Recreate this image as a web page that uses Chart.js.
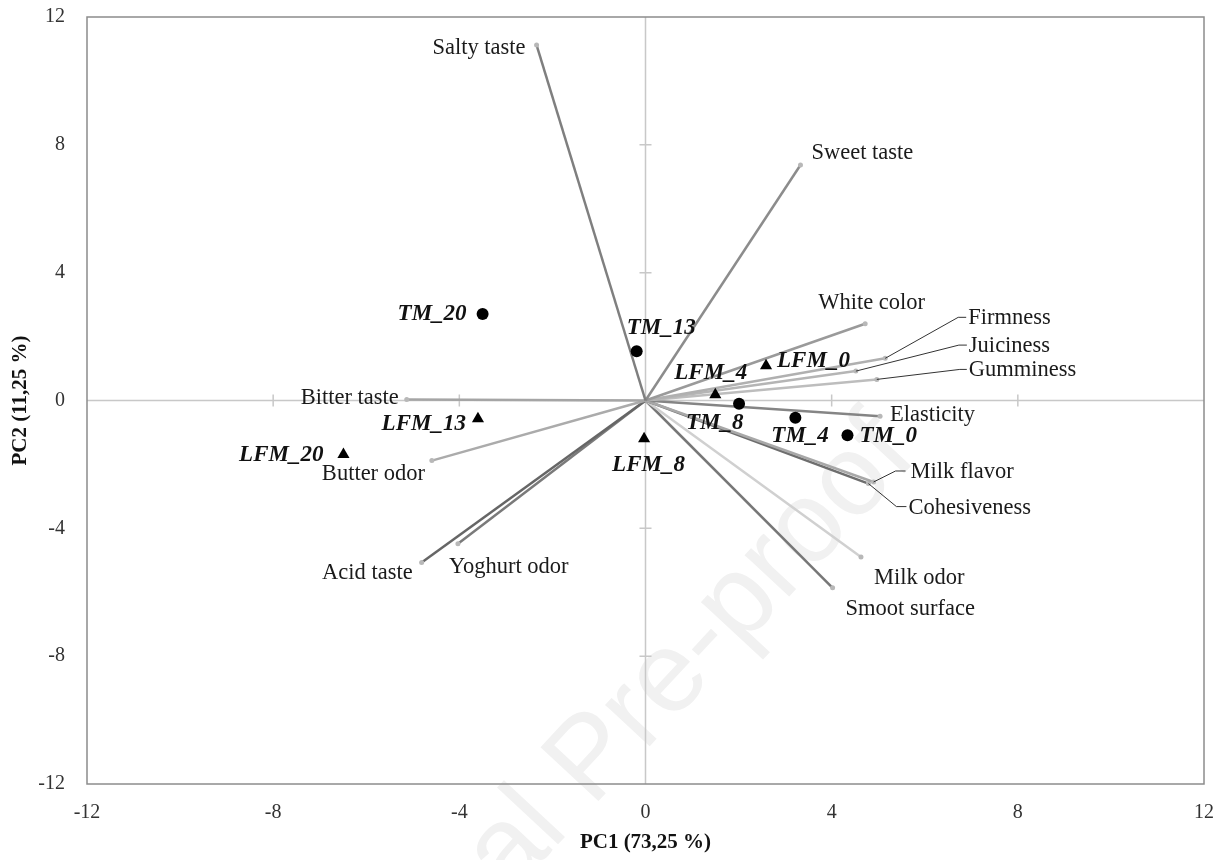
<!DOCTYPE html>
<html>
<head>
<meta charset="utf-8">
<script src="https://cdn.jsdelivr.net/npm/chart.js@4.4.0/dist/chart.umd.min.js"></script>
<style>
  html, body { margin: 0; padding: 0; background: #fff; }
  #wrap { width: 1230px; height: 860px; position: relative; }
</style>
</head>
<body>
<div id="wrap"><canvas id="grafico"></canvas></div>
<script>
// loadings (attributes)
var attributes = ['Salty taste', 'Sweet taste', 'White color', 'Firmness', 'Juiciness', 'Gumminess',
  'Elasticity', 'Milk flavor', 'Cohesiveness', 'Milk odor', 'Smoot surface',
  'Bitter taste', 'Butter odor', 'Acid taste', 'Yoghurt odor'];
var attrPC1 = [-2.34, 3.33, 4.72, 5.15, 4.52, 4.97, 5.04, 4.90, 4.79, 4.63, 4.02, -5.13, -4.59, -4.81, -4.03];
var attrPC2 = [11.12, 7.37, 2.40, 1.32, 0.92, 0.66, -0.49, -2.55, -2.60, -4.90, -5.86, 0.03, -1.88, -5.07, -4.48];

// samples
var tmNames = ['TM_0', 'TM_4', 'TM_8', 'TM_13', 'TM_20'];
var tmPC1 = [4.34, 3.22, 2.01, -0.19, -3.50];
var tmPC2 = [-1.09, -0.54, -0.10, 1.54, 2.71];

var lfmNames = ['LFM_0', 'LFM_4', 'LFM_8', 'LFM_13', 'LFM_20'];
var lfmPC1 = [2.59, 1.50, -0.03, -3.60, -6.49];
var lfmPC2 = [1.09, 0.18, -1.20, -0.57, -1.69];

var axisTicks = [-12, -8, -4, 0, 4, 8, 12];

// styles
var lineColors = ['#7f7f7f', '#8c8c8c', '#9a9a9a', '#b0b0b0', '#b5b5b5', '#bdbdbd', '#858585',
  '#a8a8a8', '#6e6e6e', '#d0d0d0', '#777777', '#a5a5a5', '#ababab', '#666666', '#7a7a7a'];

// label placement in pixels from the point: [dx, dy, align]
var attrLabelPos = {
  'Salty taste': [-11, 3, 'right'],
  'Sweet taste': [11, -12, 'left'],
  'White color': [-47, -21, 'left'],
  'Firmness': [83, -40, 'left'],
  'Juiciness': [113, -25, 'left'],
  'Gumminess': [92, -9, 'left'],
  'Elasticity': [10, -1, 'left'],
  'Milk flavor': [37, -10, 'left'],
  'Cohesiveness': [40, 25, 'left'],
  'Milk odor': [13, 21, 'left'],
  'Smoot surface': [13, 21, 'left'],
  'Bitter taste': [-8, -1, 'right'],
  'Butter odor': [-110, 14, 'left'],
  'Acid taste': [-9, 11, 'right'],
  'Yoghurt odor': [-9, 23, 'left']
};
// leader lines (polyline from the end point)
var leaders = {
  'Firmness': [[73, -41], [81, -41]],
  'Juiciness': [[103, -26], [111, -26]],
  'Gumminess': [[83, -10], [90, -10]],
  'Milk flavor': [[22, -11], [32, -11]],
  'Cohesiveness': [[28, 23], [38, 23]]
};
var sampleLabelPos = {
  'TM_20': [-16, 0, 'right'],
  'TM_13': [-10, -23, 'left'],
  'LFM_13': [-12, 5, 'right'],
  'LFM_20': [-20, 1, 'right'],
  'LFM_8': [-32, 26, 'left'],
  'LFM_4': [-41, -22, 'left'],
  'LFM_0': [11, -5, 'left'],
  'TM_8': [-53, 19, 'left'],
  'TM_4': [-24, 18, 'left'],
  'TM_0': [12, 1, 'left']
};

var serif = '"Liberation Serif", "Times New Roman", serif';

function buildDatasets() {
  var ds = [];
  ds.push({
    label: 'TM', data: tmNames.map(function(n, i) { return { x: tmPC1[i], y: tmPC2[i], name: n }; }),
    pointStyle: 'circle', pointRadius: 6, backgroundColor: '#000', borderColor: '#000', borderWidth: 0, order: 0
  });
  ds.push({
    label: 'LFM', data: lfmNames.map(function(n, i) { return { x: lfmPC1[i], y: lfmPC2[i], name: n }; }),
    pointStyle: 'triangle', pointRadius: 7, backgroundColor: '#000', borderColor: '#000', borderWidth: 0, order: 0
  });
  for (var i = 0; i < attributes.length; i++) {
    ds.push({
      label: attributes[i],
      data: [{ x: 0, y: 0 }, { x: attrPC1[i], y: attrPC2[i], name: attributes[i] }],
      showLine: true,
      borderColor: lineColors[i],
      borderWidth: 2.5,
      pointRadius: [0, 2.5],
      pointBackgroundColor: '#b8b8b8',
      pointBorderWidth: 0,
      order: 1
    });
  }
  return ds;
}

var biplotPlugin = {
  id: 'biplot',
  beforeDraw: function(chart) {
    // watermark, under everything
    var ctx = chart.ctx;
    ctx.save();
    ctx.translate(592, 808);
    ctx.rotate(-47 * Math.PI / 180);
    ctx.font = '115px "Liberation Sans", sans-serif';
    ctx.textBaseline = 'alphabetic';
    ctx.fillStyle = '#f1f1f1';
    ctx.textAlign = 'right';
    ctx.fillText('Journal ', 0, 0);
    ctx.textAlign = 'left';
    ctx.fillText('Pre-proof', 0, 0);
    ctx.restore();
  },
  beforeDatasetsDraw: function(chart) {
    var ctx = chart.ctx, a = chart.chartArea, sx = chart.scales.x, sy = chart.scales.y;
    var x0 = sx.getPixelForValue(0), y0 = sy.getPixelForValue(0);
    ctx.save();
    // zero axes
    ctx.strokeStyle = '#c8c8c8';
    ctx.lineWidth = 1.5;
    ctx.beginPath();
    ctx.moveTo(a.left, y0); ctx.lineTo(a.right, y0);
    ctx.moveTo(x0, a.top); ctx.lineTo(x0, a.bottom);
    axisTicks.forEach(function(v) {
      if (v === 0 || Math.abs(v) === 12) return;
      var px = sx.getPixelForValue(v), py = sy.getPixelForValue(v);
      ctx.moveTo(px, y0 - 6); ctx.lineTo(px, y0 + 6);
      ctx.moveTo(x0 - 6, py); ctx.lineTo(x0 + 6, py);
    });
    ctx.stroke();
    // box
    ctx.strokeStyle = '#8c8c8c';
    ctx.lineWidth = 1.5;
    ctx.strokeRect(a.left, a.top, a.right - a.left, a.bottom - a.top);
    ctx.restore();
  },
  afterDatasetsDraw: function(chart) {
    var ctx = chart.ctx, sx = chart.scales.x, sy = chart.scales.y;
    ctx.save();
    ctx.textBaseline = 'middle';
    // attribute labels
    ctx.font = '22.5px ' + serif;
    ctx.fillStyle = '#1a1a1a';
    for (var i = 0; i < attributes.length; i++) {
      var px = sx.getPixelForValue(attrPC1[i]), py = sy.getPixelForValue(attrPC2[i]);
      var p = attrLabelPos[attributes[i]];
      var ld = leaders[attributes[i]];
      if (ld) {
        ctx.strokeStyle = '#333';
        ctx.lineWidth = 1;
        ctx.beginPath();
        ctx.moveTo(px, py);
        ld.forEach(function(q) { ctx.lineTo(px + q[0], py + q[1]); });
        ctx.stroke();
      }
      ctx.textAlign = p[2];
      ctx.fillText(attributes[i], px + p[0], py + p[1]);
    }
    // sample labels
    ctx.font = 'italic bold 23px ' + serif;
    ctx.fillStyle = '#111';
    var all = [[tmNames, tmPC1, tmPC2], [lfmNames, lfmPC1, lfmPC2]];
    all.forEach(function(g) {
      for (var j = 0; j < g[0].length; j++) {
        var p = sampleLabelPos[g[0][j]];
        var px = sx.getPixelForValue(g[1][j]), py = sy.getPixelForValue(g[2][j]);
        ctx.textAlign = p[2];
        ctx.fillText(g[0][j], px + p[0], py + p[1]);
      }
    });
    ctx.restore();
  }
};

var ctx = document.getElementById('grafico');
var chart = new Chart(ctx, {
  type: 'scatter',
  data: { datasets: buildDatasets() },
  options: {
    responsive: true,
    maintainAspectRatio: false,
    animation: false,
    layout: { padding: { top: 17, right: 26, left: 0, bottom: 0 } },
    plugins: { legend: { display: false }, tooltip: { enabled: false } },
    scales: {
      x: {
        type: 'linear', min: -12, max: 12,
        afterBuildTicks: function(s) { s.ticks = axisTicks.map(function(v) { return { value: v }; }); },
        afterFit: function(s) { s.height = 76; s.paddingLeft = 0; s.paddingRight = 0; },
        grid: { display: false, drawTicks: false },
        border: { display: false },
        ticks: { padding: 17, color: '#333', font: { family: serif, size: 20 } },
        title: { display: true, text: 'PC1 (73,25 %)', color: '#111', font: { family: serif, size: 21, weight: 'bold' }, padding: { top: 0, bottom: 5 } }
      },
      y: {
        type: 'linear', min: -12, max: 12,
        afterBuildTicks: function(s) { s.ticks = axisTicks.map(function(v) { return { value: v }; }); },
        afterFit: function(s) { s.width = 87; s.paddingTop = 0; s.paddingBottom = 0; },
        grid: { display: false, drawTicks: false },
        border: { display: false },
        ticks: { padding: 22, color: '#333', font: { family: serif, size: 20 } },
        title: { display: true, text: 'PC2 (11,25 %)', color: '#111', font: { family: serif, size: 21, weight: 'bold' }, padding: { top: 8, bottom: 0 } }
      }
    }
  },
  plugins: [biplotPlugin]
});
</script>
</body>
</html>
